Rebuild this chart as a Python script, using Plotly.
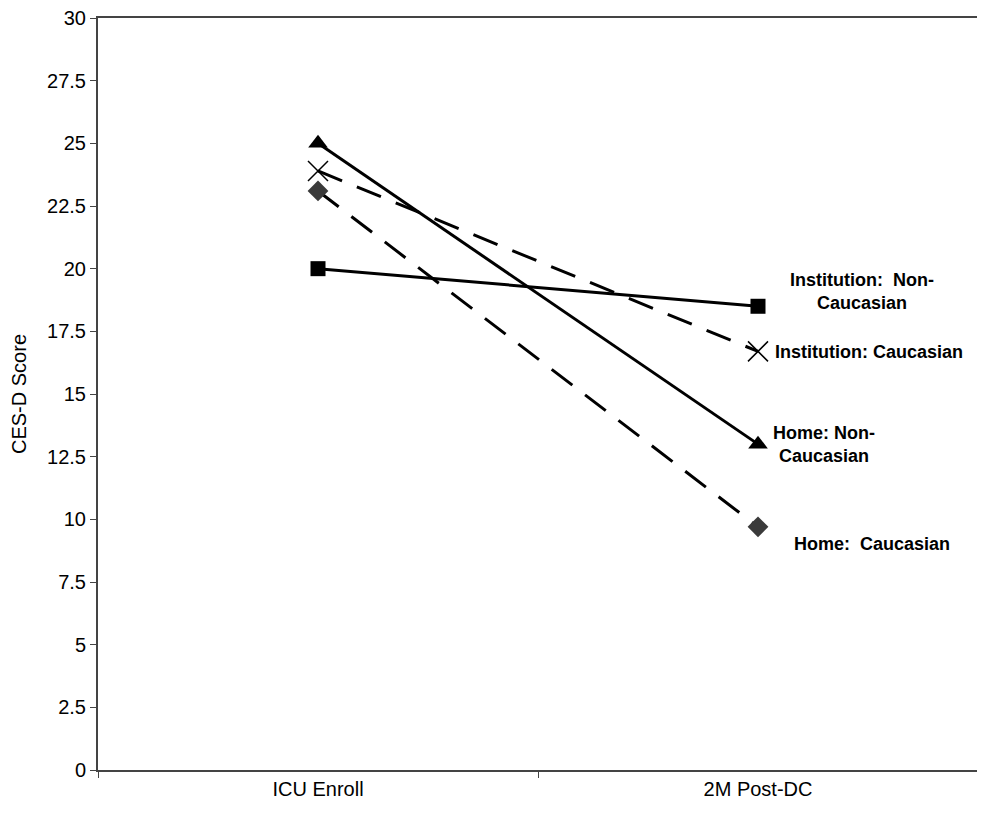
import plotly.graph_objects as go

categories = ["ICU Enroll", "2M Post-DC"]
home_noncauc = [25.0, 13.0]
inst_cauc = [23.9, 16.7]
home_cauc = [23.1, 9.7]
inst_noncauc = [20.0, 18.5]
y_ticks = [0, 2.5, 5, 7.5, 10, 12.5, 15, 17.5, 20, 22.5, 25, 27.5, 30]
y_tick_labels = ["0", "2.5", "5", "7.5", "10", "12.5", "15", "17.5", "20", "22.5", "25", "27.5", "30"]

fig = go.Figure()
fig.add_trace(go.Scatter(x=categories, y=inst_noncauc, mode="lines+markers",
                         line=dict(color="black", width=3),
                         marker=dict(symbol="square", size=15, color="black"),
                         name="Institution: Non-Caucasian"))
fig.add_trace(go.Scatter(x=categories, y=home_cauc, mode="lines+markers",
                         line=dict(color="black", width=3, dash="26px,16px"),
                         marker=dict(symbol="diamond", size=16, color="#3a3a3a"),
                         name="Home: Caucasian"))
fig.add_trace(go.Scatter(x=categories, y=inst_cauc, mode="lines+markers",
                         line=dict(color="black", width=3, dash="26px,16px"),
                         marker=dict(symbol="x-thin-open", size=20, color="black",
                                     line=dict(width=1.5, color="black")),
                         name="Institution: Caucasian"))
fig.add_trace(go.Scatter(x=categories, y=home_noncauc, mode="lines+markers",
                         line=dict(color="black", width=3),
                         marker=dict(symbol="triangle-up", size=17, color="black"),
                         name="Home: Non-Caucasian"))

ann_font = dict(family="Liberation Sans, Arial", size=18, color="black")
annotations = [
    dict(x=0.868, y=0.636, text="<b>Institution:  Non-<br>Caucasian</b>"),
    dict(x=0.876, y=0.556, text="<b>Institution: Caucasian</b>"),
    dict(x=0.825, y=0.433, text="<b>Home: Non-<br>Caucasian</b>"),
    dict(x=0.879, y=0.3005, text="<b>Home:  Caucasian</b>"),
]
for a in annotations:
    fig.add_annotation(xref="paper", yref="paper", x=a["x"], y=a["y"], text=a["text"],
                       showarrow=False, font=ann_font, xanchor="center", yanchor="middle",
                       align="center")

fig.update_layout(
    width=970, height=806,
    margin=dict(l=90, r=0, t=10, b=44),
    paper_bgcolor="white", plot_bgcolor="white",
    showlegend=False,
    font=dict(family="Liberation Sans, Arial", size=20, color="black"),
)
fig.update_xaxes(type="category", range=[-0.5, 1.5], showline=True, linecolor="#444",
                 linewidth=2, mirror=True, ticks="outside", ticklen=6, tickcolor="#444",
                 tickson="boundaries", showgrid=False, tickfont=dict(size=20),
                 automargin=False)
fig.update_yaxes(range=[0, 30], tickvals=y_ticks, ticktext=y_tick_labels,
                 showline=True, linecolor="#444", linewidth=2, mirror=True,
                 ticks="outside", ticklen=6, tickcolor="#444", showgrid=False,
                 zeroline=False, title=dict(text="CES-D Score", font=dict(size=20)),
                 tickfont=dict(size=20), automargin=False, ticklabeloverflow="allow")

fig.write_html("out.html")
